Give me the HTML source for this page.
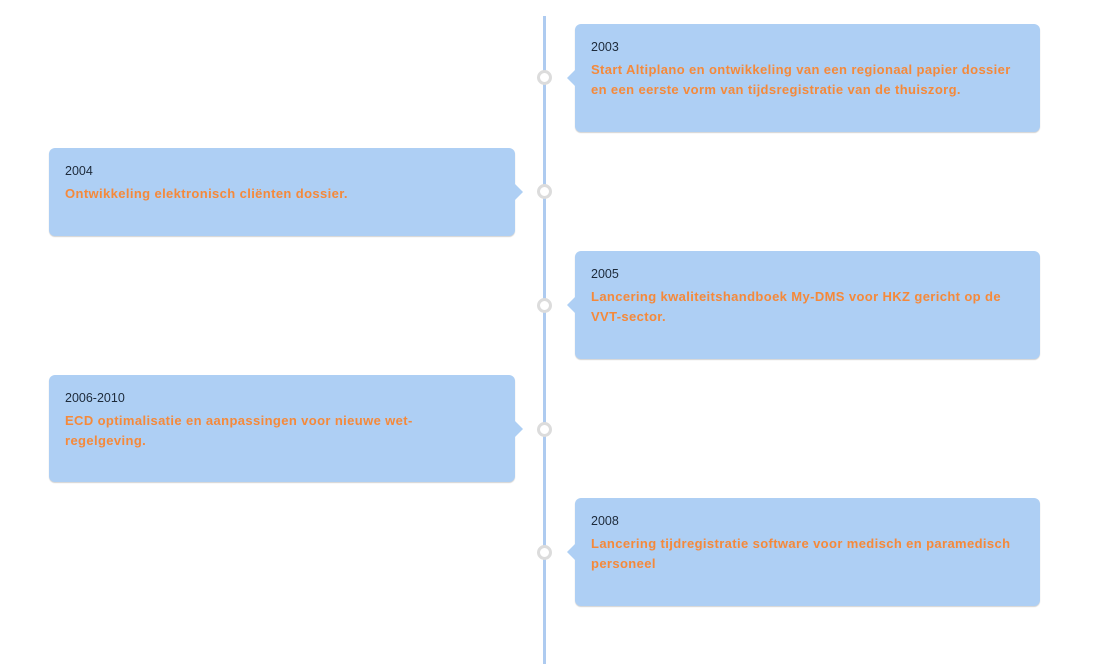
<!DOCTYPE html>
<html>
<head>
<meta charset="utf-8">
<style>
  html,body{margin:0;padding:0;background:#ffffff;}
  body{width:1093px;height:664px;position:relative;overflow:hidden;font-family:"Liberation Sans",Arial,sans-serif;}
  .line{position:absolute;left:543px;top:16px;width:3px;height:648px;background:#aecbf0;}
  .dot{position:absolute;width:9px;height:9px;border:3px solid #dcdcdc;background:#fff;border-radius:50%;left:537px;}
  .card{position:absolute;background:#aecff4;border-radius:6px;box-shadow:0 1px 1px rgba(0,0,0,0.18);}
  .card.r{left:575px;width:465px;}
  .card.l{left:49px;width:466px;}
  .card .yr{position:absolute;left:16px;top:15px;font-size:12.5px;line-height:16px;color:#1d2a3a;letter-spacing:0px;}
  .card .tx{position:absolute;left:16px;top:36px;font-size:13px;line-height:20px;font-weight:bold;color:#f5893a;white-space:nowrap;letter-spacing:0.38px;}
  .card.r::before{content:"";position:absolute;left:-8px;top:50%;margin-top:-8px;border-top:8px solid transparent;border-bottom:8px solid transparent;border-right:8px solid #aecff4;}
  .card.l::after{content:"";position:absolute;right:-8px;top:50%;margin-top:-8px;border-top:8px solid transparent;border-bottom:8px solid transparent;border-left:8px solid #aecff4;}
</style>
</head>
<body>
<div class="line"></div>

<div class="card r" style="top:24px;height:108px;">
  <div class="yr">2003</div>
  <div class="tx">Start Altiplano en ontwikkeling van een regionaal papier dossier<br>en een eerste vorm van tijdsregistratie van de thuiszorg.</div>
</div>
<div class="dot" style="top:70px;"></div>

<div class="card l" style="top:148px;height:88px;">
  <div class="yr">2004</div>
  <div class="tx">Ontwikkeling elektronisch cliënten dossier.</div>
</div>
<div class="dot" style="top:184px;"></div>

<div class="card r" style="top:251px;height:108px;">
  <div class="yr">2005</div>
  <div class="tx">Lancering kwaliteitshandboek My-DMS voor HKZ gericht op de<br>VVT-sector.</div>
</div>
<div class="dot" style="top:298px;"></div>

<div class="card l" style="top:375px;height:107px;">
  <div class="yr">2006-2010</div>
  <div class="tx">ECD optimalisatie en aanpassingen voor nieuwe wet-<br>regelgeving.</div>
</div>
<div class="dot" style="top:422px;"></div>

<div class="card r" style="top:498px;height:108px;">
  <div class="yr">2008</div>
  <div class="tx">Lancering tijdregistratie software voor medisch en paramedisch<br>personeel</div>
</div>
<div class="dot" style="top:545px;"></div>

</body>
</html>
